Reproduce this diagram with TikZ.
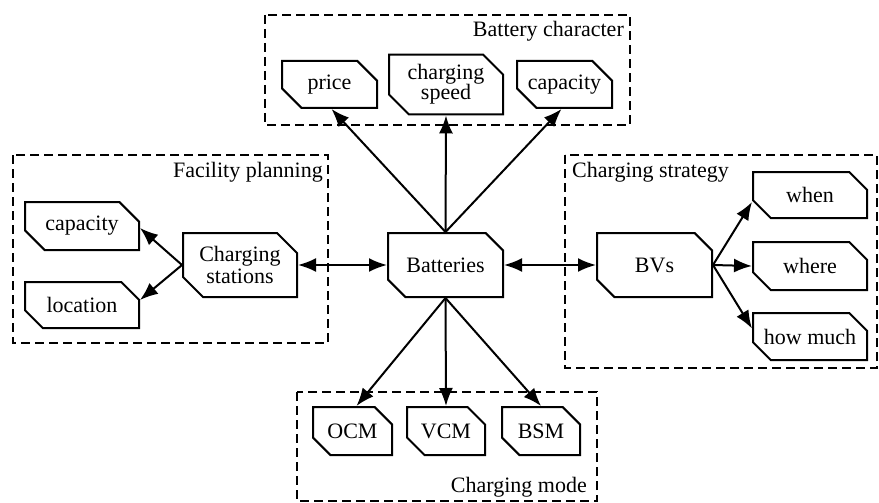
\documentclass[tikz,border=0pt]{standalone}
\usepackage{fontspec}
\setmainfont{Liberation Serif}
\usetikzlibrary{shapes.misc,arrows.meta,calc}
\begin{document}
\begin{tikzpicture}[x=1pt,y=-1pt,
  box/.style={draw, line width=2pt, chamfered rectangle,
    chamfered rectangle corners={north east,south west},
    chamfered rectangle xsep=10pt, chamfered rectangle ysep=10pt,
    inner sep=0pt, align=center, font=\fontsize{22}{22}\selectfont},
  groupbox/.style={draw, line width=2pt, dash pattern=on 9pt off 5pt},
  title/.style={inner sep=0pt, font=\fontsize{22}{22}\selectfont},
  arr/.style={line width=2pt, -{Latex[length=18pt,width=14pt]}},
  darr/.style={line width=2pt, {Latex[length=18pt,width=14pt]}-{Latex[length=18pt,width=14pt]}}]
\useasboundingbox (0,0) rectangle (879,503);
% group boxes
\draw[groupbox] (265,15) rectangle (630,125);
\draw[groupbox] (13,155) rectangle (328,343);
\draw[groupbox] (565,155) rectangle (877,368);
\draw[groupbox] (297,392) rectangle (597,501);
\node[title, anchor=base east] (tbc) at (624,37) {Battery character};
\node[title, anchor=base east] (tfp) at (323,177) {Facility planning};
\node[title, anchor=base west] (tcs) at (572,177) {Charging strategy};
\node[title, anchor=base east] (tcm) at (587,492) {Charging mode};
% nodes
\node[box, minimum width=95pt, minimum height=47pt] (price) at (329.5,84.5) {price};
\node[box, minimum width=114pt, minimum height=47pt] (speed) at (446,84.5) {charging\\[-2pt]speed};
\node[box, minimum width=95pt, minimum height=47pt] (capB) at (564.5,84.5) {capacity};
\node[box, minimum width=114pt, minimum height=48pt] (capF) at (82,226) {capacity};
\node[box, minimum width=114pt, minimum height=46pt] (loc) at (82,305) {location};
\node[box, minimum width=114pt, minimum height=64pt] (cs) at (240,265) {Charging\\[0pt]stations};
\node[box, minimum width=115pt, minimum height=64pt] (bat) at (445.5,265) {Batteries};
\node[box, minimum width=115pt, minimum height=64pt] (bvs) at (654.5,265) {BVs};
\node[box, minimum width=114pt, minimum height=46pt] (when) at (810,195) {when};
\node[box, minimum width=114pt, minimum height=48pt] (where) at (810,266) {where};
\node[box, minimum width=114pt, minimum height=47pt] (howmuch) at (810,336.5) {how much};
\node[box, minimum width=79pt, minimum height=48pt] (ocm) at (352.5,431) {OCM};
\node[box, minimum width=78pt, minimum height=48pt] (vcm) at (446,431) {VCM};
\node[box, minimum width=78pt, minimum height=48pt] (bsm) at (541,431) {BSM};
% connectors
\draw[arr] (bat.north) -- ($(price.south)+(2,0)$);
\draw[arr] (bat.north) -- (speed.south);
\draw[arr] (bat.north) -- ($(capB.south)+(-3,0)$);
\draw[arr] (bat.south) -- ($(ocm.north)+(4,0)$);
\draw[arr] (bat.south) -- (vcm.north);
\draw[arr] (bat.south) -- (bsm.north);
\draw[darr] (cs.east) -- (bat.west);
\draw[darr] (bat.east) -- (bvs.west);
\draw[arr] (cs.west) -- ($(capF.east)+(0,2)$);
\draw[arr] (cs.west) -- ($(loc.east)+(0,-5)$);
\draw[arr] (bvs.east) -- ($(when.west)+(0,7)$);
\draw[arr] (bvs.east) -- ($(where.west)+(0,0)$);
\draw[arr] (bvs.east) -- ($(howmuch.west)+(0,-8)$);
\end{tikzpicture}
\end{document}
